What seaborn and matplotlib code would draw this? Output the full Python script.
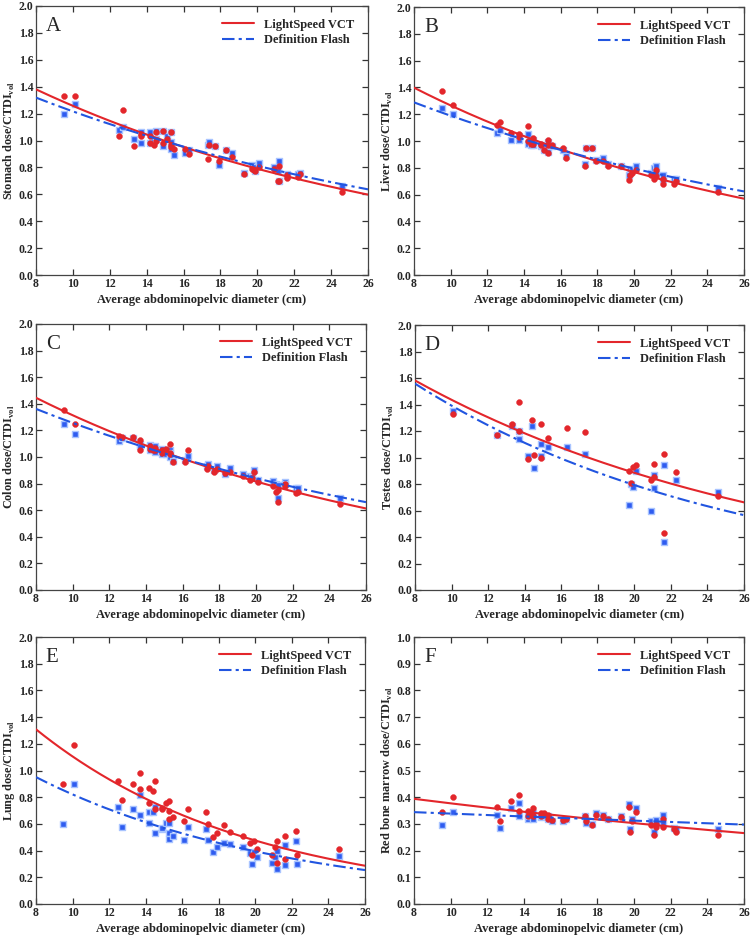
import numpy as np
import pandas as pd
import seaborn as sns
import matplotlib
matplotlib.use('Agg')
import matplotlib.pyplot as plt

# Shared patient diameters (cm) for panels A, B, C, E, F
X = [9.5, 10.1, 12.5, 12.7, 13.3, 13.7, 13.7, 14.2, 14.2, 14.4,
     14.5, 14.5, 14.9, 14.9, 15.1, 15.3, 15.3, 15.3, 15.5, 16.1,
     16.3, 17.3, 17.4, 17.7, 17.9, 18.3, 18.6, 19.3, 19.7, 19.8,
     19.9, 20.1, 20.9, 21.1, 21.2, 21.2, 21.6, 21.6, 22.2, 22.3, 24.6]

# Testes (male patients only)
X_TESTES = [10.1, 12.5, 13.3, 13.7, 13.7, 14.2, 14.4, 14.5, 14.9, 14.9,
            15.3, 16.3, 17.3, 19.7, 19.8, 19.9, 20.1, 20.9, 21.1, 21.1,
            21.6, 21.6, 22.3, 24.6]

# Organ dose / CTDIvol  (vct = LightSpeed VCT, flash = Definition Flash)
stomach_vct = [1.33, 1.33, 1.03, 1.23, 0.96, 1.03, 1.05, 1.03, 0.98, 0.97,
               1.06, 1.00, 1.07, 0.98, 1.01, 1.06, 0.97, 0.95, 0.94, 0.94,
               0.90, 0.86, 0.97, 0.96, 0.85, 0.93, 0.88, 0.75, 0.79, 0.78,
               0.77, 0.80, 0.79, 0.70, 0.81, 0.70, 0.72, 0.74, 0.73, 0.75, 0.62]
stomach_flash = [1.20, 1.27, 1.08, 1.10, 1.01, 1.06, 0.98, 1.06, 0.98, 1.00,
                 1.07, 1.01, 1.07, 0.96, 1.03, 1.06, 0.99, 0.94, 0.89, 0.91,
                 0.93, 0.97, 0.99, 0.96, 0.82, 0.93, 0.91, 0.76, 0.82, 0.80,
                 0.77, 0.83, 0.80, 0.77, 0.85, 0.70, 0.74, 0.75, 0.75, 0.76, 0.66]

liver_vct = [1.37, 1.27, 1.12, 1.14, 1.06, 1.05, 1.03, 1.11, 1.00, 0.98,
             1.02, 0.98, 0.97, 0.98, 0.93, 1.01, 0.91, 0.97, 0.97, 0.95,
             0.87, 0.81, 0.95, 0.95, 0.85, 0.85, 0.81, 0.81, 0.71, 0.75,
             0.76, 0.78, 0.75, 0.72, 0.78, 0.74, 0.68, 0.72, 0.68, 0.70, 0.62]
liver_flash = [1.25, 1.20, 1.06, 1.08, 1.01, 1.01, 1.04, 1.05, 0.98, 0.97,
               1.01, 0.97, 0.96, 0.97, 0.93, 0.97, 0.92, 0.99, 0.96, 0.93,
               0.89, 0.83, 0.95, 0.95, 0.86, 0.87, 0.83, 0.81, 0.75, 0.79,
               0.78, 0.81, 0.76, 0.80, 0.81, 0.77, 0.72, 0.75, 0.72, 0.72, 0.65]

colon_vct = [1.35, 1.25, 1.16, 1.15, 1.15, 1.13, 1.05, 1.08, 1.06, 1.05,
             1.07, 1.05, 1.05, 1.03, 1.06, 1.10, 1.02, 1.03, 0.96, 0.96,
             1.05, 0.91, 0.93, 0.89, 0.91, 0.88, 0.89, 0.86, 0.83, 0.84,
             0.89, 0.81, 0.78, 0.74, 0.75, 0.66, 0.78, 0.80, 0.73, 0.74, 0.65]
colon_flash = [1.25, 1.17, 1.12, 1.14, 1.14, 1.10, 1.08, 1.09, 1.05, 1.07,
               1.08, 1.04, 1.06, 1.02, 1.02, 1.05, 1.00, 1.03, 0.97, 0.98,
               1.01, 0.93, 0.95, 0.90, 0.93, 0.87, 0.92, 0.87, 0.86, 0.85,
               0.90, 0.83, 0.82, 0.80, 0.79, 0.69, 0.81, 0.80, 0.77, 0.77, 0.69]

testes_vct = [1.33, 1.17, 1.25, 1.42, 1.20, 0.99, 1.28, 1.02, 1.25, 1.00,
              1.15, 1.22, 1.19, 0.90, 0.81, 0.93, 0.94, 0.83, 0.95, 0.85,
              1.03, 0.43, 0.89, 0.71]
testes_flash = [1.35, 1.17, 1.24, 1.20, 1.14, 1.01, 1.24, 0.92, 1.10, 1.01,
                1.08, 1.08, 1.03, 0.64, 0.80, 0.78, 0.90, 0.60, 0.87, 0.77,
                0.94, 0.36, 0.83, 0.74]

lung_vct = [0.90, 1.19, 0.92, 0.78, 0.90, 0.98, 0.86, 0.87, 0.76, 0.85,
            0.92, 0.71, 0.72, 0.71, 0.76, 0.77, 0.70, 0.64, 0.65, 0.62,
            0.71, 0.69, 0.60, 0.50, 0.53, 0.59, 0.54, 0.51, 0.46, 0.37,
            0.47, 0.41, 0.37, 0.43, 0.47, 0.31, 0.51, 0.34, 0.55, 0.37, 0.41]
lung_flash = [0.60, 0.90, 0.73, 0.58, 0.71, 0.82, 0.67, 0.69, 0.61, 0.69,
              0.73, 0.53, 0.56, 0.57, 0.61, 0.61, 0.53, 0.49, 0.51, 0.48,
              0.58, 0.56, 0.48, 0.39, 0.43, 0.46, 0.45, 0.43, 0.38, 0.30,
              0.39, 0.35, 0.31, 0.35, 0.40, 0.26, 0.44, 0.29, 0.47, 0.30, 0.36]

marrow_vct = [0.345, 0.40, 0.365, 0.31, 0.385, 0.41, 0.35, 0.35, 0.33, 0.34,
              0.36, 0.33, 0.34, 0.33, 0.34, 0.335, 0.33, 0.32, 0.315, 0.315,
              0.32, 0.33, 0.31, 0.295, 0.335, 0.33, 0.32, 0.325, 0.365, 0.27,
              0.31, 0.345, 0.295, 0.26, 0.29, 0.30, 0.32, 0.29, 0.28, 0.27, 0.26]
marrow_flash = [0.295, 0.345, 0.335, 0.285, 0.36, 0.38, 0.33, 0.32, 0.33, 0.33,
                0.34, 0.32, 0.325, 0.33, 0.33, 0.33, 0.32, 0.325, 0.31, 0.31,
                0.32, 0.33, 0.305, 0.30, 0.34, 0.335, 0.32, 0.33, 0.375, 0.28,
                0.32, 0.36, 0.31, 0.27, 0.31, 0.315, 0.335, 0.30, 0.285, 0.28, 0.28]

PANELS = [
    ('A', 'Stomach', X, stomach_vct, stomach_flash, 2.0),
    ('B', 'Liver', X, liver_vct, liver_flash, 2.0),
    ('C', 'Colon', X, colon_vct, colon_flash, 2.0),
    ('D', 'Testes', X_TESTES, testes_vct, testes_flash, 2.0),
    ('E', 'Lung', X, lung_vct, lung_flash, 2.0),
    ('F', 'Red bone marrow', X, marrow_vct, marrow_flash, 1.0),
]

# axes boxes in pixels (left, top, right, bottom) of a 750x935 figure
BOXES = [(36, 6, 368, 275), (414, 7, 744, 275),
         (36, 324, 366, 590), (415, 325, 744, 590),
         (36, 637, 365, 904), (414, 637, 744, 904)]

RED = '#e3262b'
BLUE = '#2155e0'

sns.set_theme(style='ticks')
plt.rcParams['font.family'] = ['Liberation Serif', 'DejaVu Serif']
plt.rcParams['mathtext.fontset'] = 'custom'
plt.rcParams['mathtext.rm'] = 'Liberation Serif'
plt.rcParams['mathtext.bf'] = 'Liberation Serif:bold'

W, H = 750, 935
fig = plt.figure(figsize=(7.5, 9.35), dpi=100)


def exp_fit(x, y):
    # y = a * exp(b x), least squares on log(y)
    b, loga = np.polyfit(np.asarray(x), np.log(np.asarray(y)), 1)
    grid = np.linspace(8, 26, 200)
    return grid, np.exp(loga) * np.exp(b * grid)


for (letter, organ, xs, vct, flash, ymax), (l, t, r, b) in zip(PANELS, BOXES):
    ax = fig.add_axes([l / W, 1 - b / H, (r - l) / W, (b - t) / H])
    df = pd.DataFrame({'x': xs, 'vct': vct, 'flash': flash})

    sns.scatterplot(data=df, x='x', y='flash', ax=ax, marker='s', s=18,
                    color='#2f5cf0', edgecolor='#a9c4ff', linewidth=1.0, zorder=3)
    sns.scatterplot(data=df, x='x', y='vct', ax=ax, marker='o', s=18,
                    color=RED, edgecolor=RED, linewidth=0.3, zorder=3)

    gx, gy = exp_fit(df['x'], df['vct'])
    sns.lineplot(x=gx, y=gy, ax=ax, color=RED, lw=1.5, label='LightSpeed VCT', zorder=4)
    gx, gy = exp_fit(df['x'], df['flash'])
    sns.lineplot(x=gx, y=gy, ax=ax, color=BLUE, lw=1.5, label='Definition Flash', zorder=4)
    ax.lines[-1].set_dashes([6, 2, 1.5, 2])

    ax.set_xlim(8, 26)
    ax.set_ylim(0, ymax)
    ax.set_xticks(np.arange(8, 27, 2))
    step = 0.2 if ymax == 2.0 else 0.1
    ax.set_yticks(np.arange(0, ymax + step / 2, step))
    ax.set_yticklabels([f'{v:.1f}' for v in np.arange(0, ymax + step / 2, step)])
    ax.tick_params(direction='in', top=True, right=True, length=4, width=0.9,
                   labelsize=8.5, pad=2, color='#333333')
    for lab in ax.get_xticklabels() + ax.get_yticklabels():
        lab.set_fontweight('bold')
    for sp in ax.spines.values():
        sp.set_color('#444444')
        sp.set_linewidth(0.9)

    ax.set_xlabel('Average abdominopelvic diameter (cm)', fontsize=9,
                  fontweight='bold', labelpad=3)
    ax.set_ylabel(organ + r' dose/CTDI$_{\mathbf{vol}}$', fontsize=8.8,
                  fontweight='bold', labelpad=1)

    ax.text(0.03, 0.96, letter, transform=ax.transAxes, fontsize=15,
            va='top', ha='left')

    leg = ax.legend(loc='upper right', frameon=False, fontsize=9,
                    handlelength=2.6, borderaxespad=0.4, labelspacing=0.3,
                    bbox_to_anchor=(0.99, 0.99))
    for txt in leg.get_texts():
        txt.set_fontweight('bold')
    leg.get_lines()[1].set_dashes([6, 2, 1.5, 2])

fig.savefig('out.png', dpi=100)
